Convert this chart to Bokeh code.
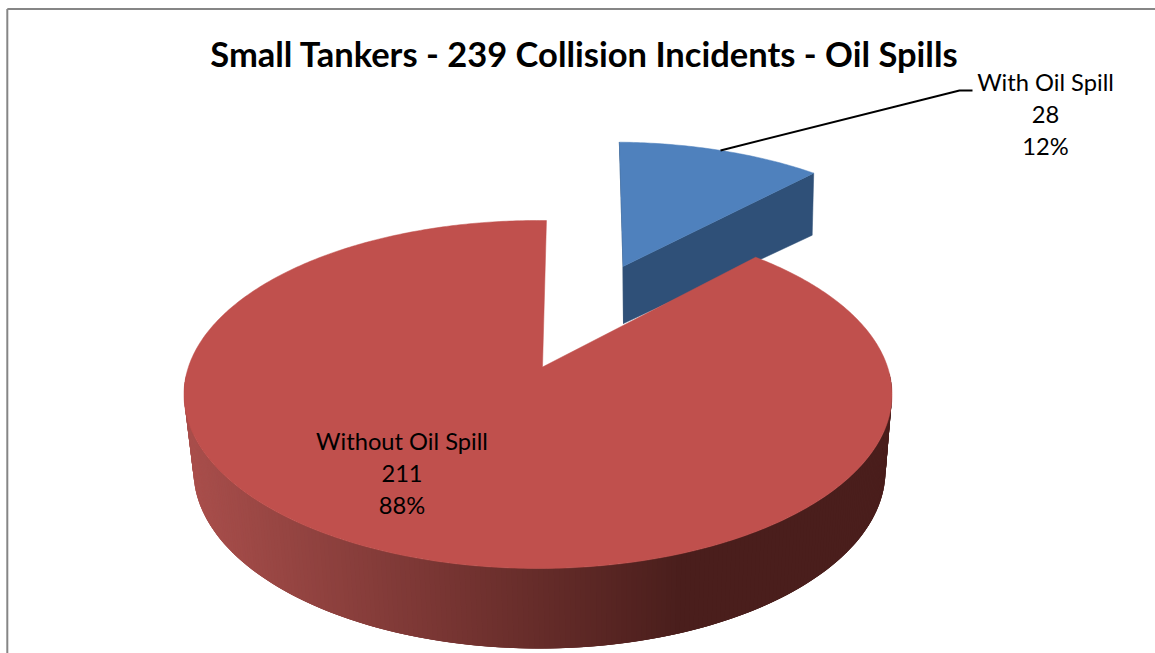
import numpy as np
from bokeh.core.properties import value
from bokeh.embed import file_html
from bokeh.models import Range1d
from bokeh.plotting import figure
from bokeh.resources import INLINE

# Chart content
title = "Small Tankers - 239 Collision Incidents - Oil Spills"
categories = ["With Oil Spill", "Without Oil Spill"]
incidents = [28, 211]
percent_labels = ["12%", "88%"]

FONT = "Lato"
W, H = 1155, 653
RED_TOP, BLUE_TOP, BLUE_SIDE = "#C0504D", "#4F81BD", "#2F5078"
START = np.radians(1.6)
sweep = 2 * np.pi * incidents[0] / sum(incidents)


def ring(ex, ey, rx, ry, k, theta):
    """Project a circle angle (clockwise from 12 o'clock) onto a tilted disc outline."""
    theta = np.asarray(theta)
    b = rx * np.sqrt(1 - k * k)
    a = ry * (1 - k * k)
    d = 1 + k * np.cos(theta)
    return ex + b * np.sin(theta) / d, (ey - ry * k) - a * np.cos(theta) / d


p = figure(width=W, height=H, output_backend="svg", toolbar_location=None,
           x_range=Range1d(0, W), y_range=Range1d(H, 0), min_border=0)
p.axis.visible = False
p.grid.visible = False
p.outline_line_color = None
p.background_fill_color = "white"

# Chart frame, running off the window on the right and at the bottom
p.line([6.8, 6.8], [8.5, H + 5], line_color="#868686", line_width=2)
p.line([6.8, W + 5], [8.5, 8.5], line_color="#868686", line_width=2)

# Exploded slice: side faces first, then its top
k = 0.155
top_blue = (611, 288.6, 329, 147, k)
bot_blue = (615, 344.0, 320, 138.5, k)
apex_top = (622.5, 266.0)
apex_bot = (623.0, 323.0)
t0, t1 = START, START + sweep
x0t, y0t = ring(*top_blue, t0)
x1t, y1t = ring(*top_blue, t1)
x0b, y0b = ring(*bot_blue, t0)
x1b, y1b = ring(*bot_blue, t1)
p.patch([x0t, x0b, apex_bot[0], apex_top[0]], [y0t, y0b, apex_bot[1], apex_top[1]],
        fill_color="#24405F", line_color="#24405F", line_width=0.5)
p.patch([apex_top[0], x1t, x1b, apex_bot[0]], [apex_top[1], y1t, y1b, apex_bot[1]],
        fill_color=BLUE_SIDE, line_color=BLUE_SIDE, line_width=0.5)
arc = np.linspace(t0, t1, 60)
ax, ay = ring(*top_blue, arc)
p.patch([apex_top[0], *ax], [apex_top[1], *ay], fill_color=BLUE_TOP, line_color=BLUE_TOP, line_width=0.5)

# Main slice: shaded wall as overlapping strips, darkening from left to right
top_red = (537.5, 394, 354, 174, k)
bot_red = (539.0, 470, 346, 178, k)
edges = np.linspace(np.radians(92), np.radians(268), 241)[::-1]
xt, yt = ring(*top_red, edges)
xb, yb = ring(*bot_red, edges)
mid = (xt[:-1] + xt[1:]) / 2
shade = np.clip((mid - 190) / 490, 0, 1)
rgb = np.outer(1 - shade, (168, 78, 75)) + np.outer(shade, (74, 30, 28))
colors = ["#%02x%02x%02x" % tuple(c) for c in rgb.round().astype(int)]
last = len(edges) - 1
strip = [(i, min(i + 3, last)) for i in range(len(mid))]
p.patches([[xt[i], xt[j], xb[j], xb[i]] for i, j in strip],
          [[yt[i], yt[j], yb[j], yb[i]] for i, j in strip],
          fill_color=colors, line_color=None)

arc = np.linspace(t1, t0 + 2 * np.pi, 500)
ax, ay = ring(*top_red, arc)
p.patch([542, *ax], [366.5, *ay], fill_color=RED_TOP, line_color=RED_TOP, line_width=0.5)

# Leader from the exploded slice to its label
p.line([720, 959, 972], [150, 90, 90], line_color="black", line_width=2)

# Title and data labels
p.text([584], [52.5], text=[title], text_font=value(FONT), text_font_style="bold",
       text_font_size="34.5px", text_align="center", text_baseline="middle", text_color="black")

for cat, n, pct, cx, cy in zip(categories, incidents, percent_labels, (1045, 401.5), (81.5, 440.5)):
    p.text([cx] * 3, [cy, cy + 32, cy + 64], text=[cat, str(n), pct], text_font=value(FONT),
           text_font_size="23.7px", text_align="center", text_baseline="middle", text_color="black")

open("out.html", "w").write(file_html(p, INLINE))
